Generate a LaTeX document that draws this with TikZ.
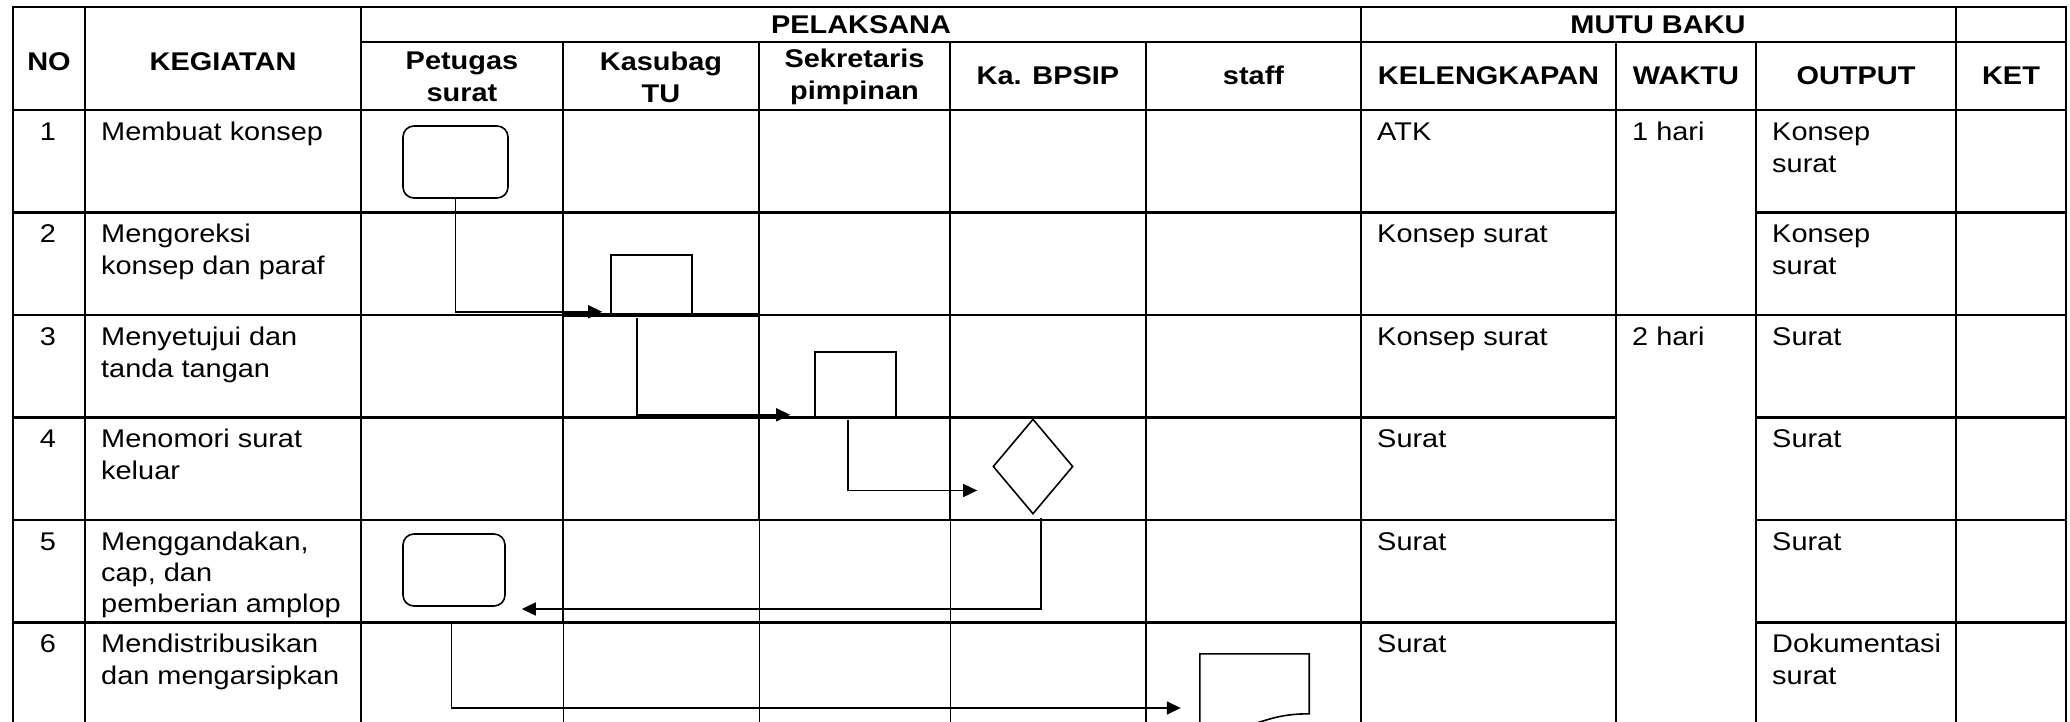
\documentclass[tikz,border=0pt]{standalone}
\usepackage{fontspec}
\setmainfont{Liberation Sans}[FakeStretch=1.13]
\usetikzlibrary{shapes.geometric,arrows.meta,calc}
\newcommand{\mystrut}{\rule{0pt}{21pt}}
\begin{document}
\begin{tikzpicture}[x=1pt,y=-1pt,
  grid/.style={line width=2.3pt,line cap=rect},
  thingrid/.style={line width=1pt},
  box/.style={draw,line width=1.6pt,inner sep=0pt},
  rbox/.style={box,rounded corners=11pt},
  conn/.style={line width=1.5pt,-{Triangle[length=14pt,width=13pt]}},
  hdr/.style={font=\fontsize{25.6}{32}\selectfont\bfseries,align=center,inner sep=0pt},
  cell/.style={font=\fontsize{25.6}{32}\selectfont,align=left,anchor=north west,inner sep=0pt},
  num/.style={font=\fontsize{25.6}{32}\selectfont,anchor=north,inner sep=0pt},
]
\useasboundingbox (0,0) rectangle (2070,722);
\clip (0,0) rectangle (2070,722);
% ---------- grid ----------
\draw[grid] (13,7) -- (2066,7);
\draw[grid] (361,42) -- (2066,42);
\draw[grid] (13,110) -- (2066,110);
\foreach \y in {212.5,417.5,520,622.5}
  \draw[grid] (13,\y) -- (1616,\y) (1756,\y) -- (2066,\y);
\draw[grid] (13,315) -- (2066,315);
\draw[line width=4.5pt] (563,315) -- (759,315);
\foreach \x in {13,85,361,1361,1956,2066}
  \draw[grid] (\x,7) -- (\x,730);
\foreach \x in {1146,1616,1756}
  \draw[grid] (\x,42) -- (\x,730);
\draw[grid] (563,42) -- (563,622.5);
\draw[thingrid] (563,622.5) -- (563,730);
\foreach \x in {759,950}{
  \draw[grid] (\x,42) -- (\x,520);
  \draw[thingrid] (\x,520) -- (\x,730);
}
% ---------- header ----------
\node[hdr] (hno) at (49,62) {NO};
\node[hdr] (hkeg) at (223,62) {KEGIATAN};
\node[hdr] (hpel) at (861,24.5) {PELAKSANA};
\node[hdr] (hmutu) at (1658,24.5) {MUTU BAKU};
\node[hdr] (hpet) at (462,77) {Petugas\\surat};
\node[hdr] (hkas) at (661,77) {Kasubag\\TU};
\node[hdr] (hsek) at (854.5,77) {Sekretaris\\pimpinan};
\node[hdr] (hka) at (1048,75.5) {Ka. BPSIP};
\node[hdr] (hstaff) at (1253.5,75.5) {staff};
\node[hdr] (hkel) at (1488.5,75.5) {KELENGKAPAN};
\node[hdr] (hwak) at (1686,75.5) {WAKTU};
\node[hdr] (hout) at (1856,75.5) {OUTPUT};
\node[hdr] (hket) at (2011,75.5) {KET};
% ---------- body ----------
\node[num] (n1) at (48,119) {\mystrut 1};
\node[num] (n2) at (48,221.5) {\mystrut 2};
\node[num] (n3) at (48,324) {\mystrut 3};
\node[num] (n4) at (48,426.5) {\mystrut 4};
\node[num] (n5) at (48,529) {\mystrut 5};
\node[num] (n6) at (48,631.5) {\mystrut 6};
\node[cell] (k1) at (101,119) {\mystrut Membuat konsep};
\node[cell] (k2) at (101,221.5) {\mystrut Mengoreksi\\konsep dan paraf};
\node[cell] (k3) at (101,324) {\mystrut Menyetujui dan\\tanda tangan};
\node[cell] (k4) at (101,426.5) {\mystrut Menomori surat\\keluar};
\node[cell,font=\fontsize{25.6}{31}\selectfont] (k5) at (101,529) {\mystrut Menggandakan,\\cap, dan\\pemberian amplop};
\node[cell] (k6) at (101,631.5) {\mystrut Mendistribusikan\\dan mengarsipkan};
\node[cell] (l1) at (1377,119) {\mystrut ATK};
\node[cell] (l2) at (1377,221.5) {\mystrut Konsep surat};
\node[cell] (l3) at (1377,324) {\mystrut Konsep surat};
\node[cell] (l4) at (1377,426.5) {\mystrut Surat};
\node[cell] (l5) at (1377,529) {\mystrut Surat};
\node[cell] (l6) at (1377,631.5) {\mystrut Surat};
\node[cell] (w1) at (1632,119) {\mystrut 1 hari};
\node[cell] (w3) at (1632,324) {\mystrut 2 hari};
\node[cell] (o1) at (1772,119) {\mystrut Konsep\\surat};
\node[cell] (o2) at (1772,221.5) {\mystrut Konsep\\surat};
\node[cell] (o3) at (1772,324) {\mystrut Surat};
\node[cell] (o4) at (1772,426.5) {\mystrut Surat};
\node[cell] (o5) at (1772,529) {\mystrut Surat};
\node[cell] (o6) at (1772,631.5) {\mystrut Dokumentasi\\surat};
% ---------- flow shapes ----------
\node[rbox,minimum width=105pt,minimum height=72pt] (b1) at (455.5,162) {};
\node[box,minimum width=81pt,minimum height=59pt] (b2) at (651.5,284.5) {};
\node[box,minimum width=81pt,minimum height=66pt] (b3) at (855.5,385) {};
\node[box,diamond,minimum width=80pt,minimum height=95pt] (d4) at (1033,466.5) {};
\node[rbox,minimum width=102pt,minimum height=72pt] (b5) at (454,570) {};
\node[inner sep=0pt,minimum width=109pt,minimum height=75pt] (doc) at (1254.5,691.5) {};
\draw[line width=1.6pt] ($(doc.north west)+(0,70)$) -- (doc.north west) -- (doc.north east)
  -- ($(doc.north east)+(0,60)$) .. controls ($(doc.north)+(0,60)$) and ($(doc.north)+(0,83)$) .. ($(doc.north west)+(0,70)$);
% ---------- connectors ----------
\draw[conn] (b1.south) |- ($(b2.south west)+(-8,-3)$);
\draw[conn] ($(b2.south)+(-14.5,3)$) |- ($(b3.south west)+(-24,-4)$);
\draw[conn] ($(b3.south)+(-7.5,1)$) |- ($(d4.west)+(-15,24)$);
\draw[conn] ($(d4.south)+(8,3)$) |- ($(b5.east)+(16,39)$);
\draw[conn] ($(b5.south)+(-2.5,17)$) |- ($(doc.west)+(-19,16.5)$);
\end{tikzpicture}
\end{document}
